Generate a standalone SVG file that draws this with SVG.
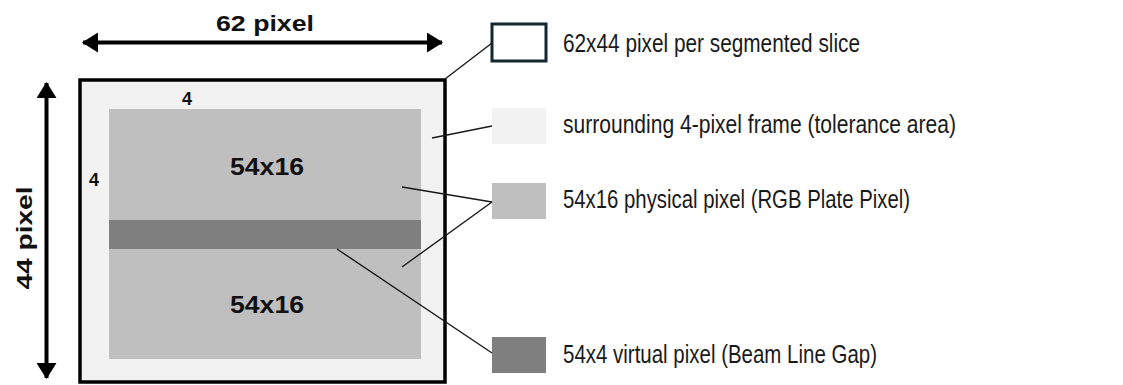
<svg xmlns="http://www.w3.org/2000/svg" width="1123" height="385" viewBox="0 0 1123 385">
<defs>
<marker id="ah" viewBox="0 0 16 20" refX="15" refY="10" markerWidth="16" markerHeight="20" markerUnits="userSpaceOnUse" orient="auto-start-reverse">
<path d="M0,0 L16,10 L0,20 Z" fill="#000"/>
</marker>
</defs>
<style>
.b{font-family:"Liberation Sans",Arial,sans-serif;font-weight:bold;fill:#111}
.l{font-family:"Liberation Sans",Arial,sans-serif;font-size:25px;fill:#1a1a1a}
.c{stroke:#1a1a1a;stroke-width:1.4;fill:none}
</style>
<rect width="1123" height="385" fill="#fff"/>
<g id="slice">
<rect x="80" y="80" width="365" height="302" fill="#f2f2f2" stroke="#000" stroke-width="3.5"/>
</g>
<g id="plate">
<rect x="109" y="109" width="312" height="250" fill="#bfbfbf"/>
<text class="b" x="267" y="175" font-size="24" text-anchor="middle" textLength="74" lengthAdjust="spacingAndGlyphs">54x16</text>
<text class="b" x="267" y="313" font-size="24" text-anchor="middle" textLength="74" lengthAdjust="spacingAndGlyphs">54x16</text>
</g>
<g id="gap">
<rect x="109" y="220" width="312" height="29" fill="#7f7f7f"/>
</g>
<g id="dims">
<line x1="83" y1="42.5" x2="442" y2="42.5" stroke="#000" stroke-width="4" marker-start="url(#ah)" marker-end="url(#ah)"/>
<text class="b" x="265" y="31" font-size="22" text-anchor="middle" textLength="98" lengthAdjust="spacingAndGlyphs">62 pixel</text>
<line x1="46.5" y1="83" x2="46.5" y2="378" stroke="#000" stroke-width="4" marker-start="url(#ah)" marker-end="url(#ah)"/>
<text class="b" font-size="22" text-anchor="middle" textLength="103" lengthAdjust="spacingAndGlyphs" transform="translate(32,238) rotate(-90)">44 pixel</text>
<text class="b" x="187" y="105" font-size="18" text-anchor="middle">4</text>
<text class="b" x="94" y="186" font-size="18" text-anchor="middle">4</text>
</g>
<g id="legend1">
<rect x="492" y="24" width="54" height="37" fill="#fff" stroke="#14262f" stroke-width="3"/>
<text class="l" x="563" y="52" textLength="297" lengthAdjust="spacingAndGlyphs">62x44 pixel per segmented slice</text>
</g>
<g id="legend2">
<rect x="492" y="108" width="54" height="36" fill="#f2f2f2"/>
<text class="l" x="563" y="133" textLength="393" lengthAdjust="spacingAndGlyphs">surrounding 4-pixel frame (tolerance area)</text>
</g>
<g id="legend3">
<rect x="492" y="183" width="54" height="36" fill="#bfbfbf"/>
<text class="l" x="563" y="208" textLength="347" lengthAdjust="spacingAndGlyphs">54x16 physical pixel (RGB Plate Pixel)</text>
</g>
<g id="legend4">
<rect x="492" y="337" width="54" height="36" fill="#7f7f7f"/>
<text class="l" x="563" y="363" textLength="314" lengthAdjust="spacingAndGlyphs">54x4 virtual pixel (Beam Line Gap)</text>
</g>
<g id="connectors">
<line class="c" x1="445" y1="79" x2="492" y2="43"/>
<line class="c" x1="432" y1="138" x2="492" y2="126"/>
<line class="c" x1="402" y1="187" x2="492" y2="202"/>
<line class="c" x1="402" y1="267" x2="492" y2="202"/>
<line class="c" x1="337" y1="249" x2="492" y2="353"/>
</g>
</svg>
